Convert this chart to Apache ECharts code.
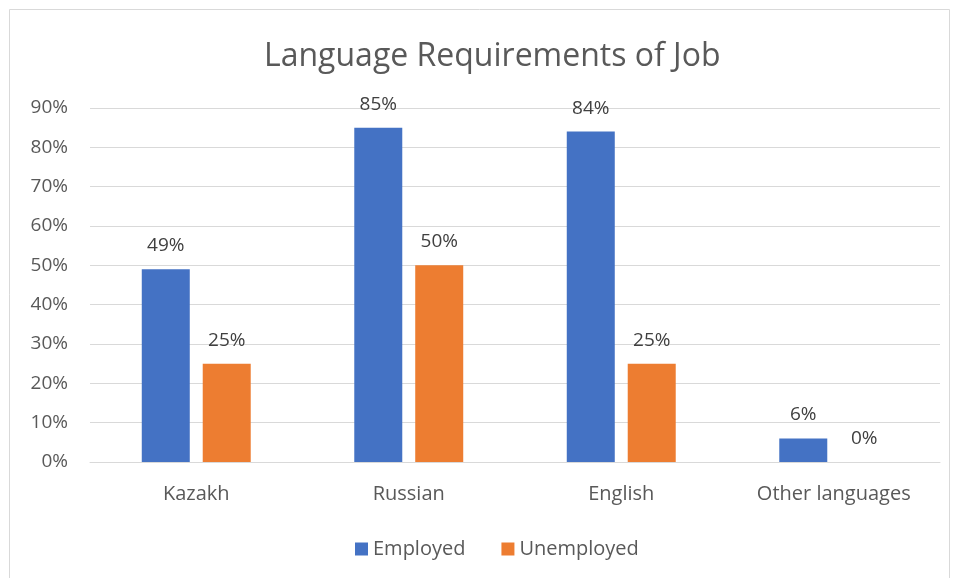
<!DOCTYPE html>
<html>
<head>
<meta charset="utf-8">
<script src="https://cdn.jsdelivr.net/npm/echarts@6/dist/echarts.min.js"></script>
<style>
  html, body { margin: 0; padding: 0; background: #fff; }
  #chart { width: 958px; height: 578px; }
</style>
</head>
<body>
<div id="chart"></div>
<script>
// Share of respondents whose job requires each language
const categories = ['Kazakh', 'Russian', 'English', 'Other languages'];
const employed = [49, 85, 84, 6];
const unemployed = [25, 50, 25, 0];
const seriesNames = ['Employed', 'Unemployed'];

const FONT = '"Open Sans", "Noto Sans", sans-serif';
const TEXT = '#595959';

const chart = echarts.init(document.getElementById('chart'), null, { renderer: 'canvas' });

const labelStyle = {
  show: true,
  position: 'top',
  distance: 14,
  formatter: '{c}%',
  color: '#404040',
  fontFamily: FONT,
  fontSize: 19
};

chart.setOption({
  animation: false,
  backgroundColor: '#ffffff',
  textStyle: { fontFamily: FONT },
  graphic: [{
    type: 'rect',
    shape: { x: 9.5, y: 9.5, width: 940, height: 580 },
    style: { fill: 'none', stroke: '#d9d9d9', lineWidth: 1 },
    silent: true
  }],
  title: {
    text: 'Language Requirements of Job',
    left: 259,
    top: 36,
    textStyle: { color: TEXT, fontFamily: FONT, fontSize: 32, fontWeight: 'normal' }
  },
  legend: {
    data: seriesNames,
    top: 534,
    left: 350,
    itemWidth: 13,
    itemHeight: 13,
    itemGap: 36,
    icon: 'rect',
    textStyle: { color: TEXT, fontFamily: FONT, fontSize: 20 }
  },
  grid: { left: 90, right: 18, top: 108, bottom: 116 },
  xAxis: {
    type: 'category',
    data: categories,
    axisLine: { show: true, lineStyle: { color: '#d9d9d9', width: 1 } },
    axisTick: { show: false },
    axisLabel: { color: TEXT, fontFamily: FONT, fontSize: 20, margin: 22 }
  },
  yAxis: {
    type: 'value',
    min: 0,
    max: 90,
    interval: 10,
    axisLine: { show: false },
    axisTick: { show: false },
    splitLine: { lineStyle: { color: '#d9d9d9', width: 1 } },
    axisLabel: { formatter: '{value}%', color: TEXT, fontFamily: FONT, fontSize: 19, margin: 22 }
  },
  series: [
    {
      name: seriesNames[0],
      type: 'bar',
      data: employed,
      barWidth: 48,
      barGap: '27%',
      itemStyle: { color: '#4472c4' },
      label: labelStyle
    },
    {
      name: seriesNames[1],
      type: 'bar',
      data: unemployed,
      barWidth: 48,
      barGap: '27%',
      itemStyle: { color: '#ed7d31' },
      label: labelStyle
    }
  ]
});
</script>
</body>
</html>
